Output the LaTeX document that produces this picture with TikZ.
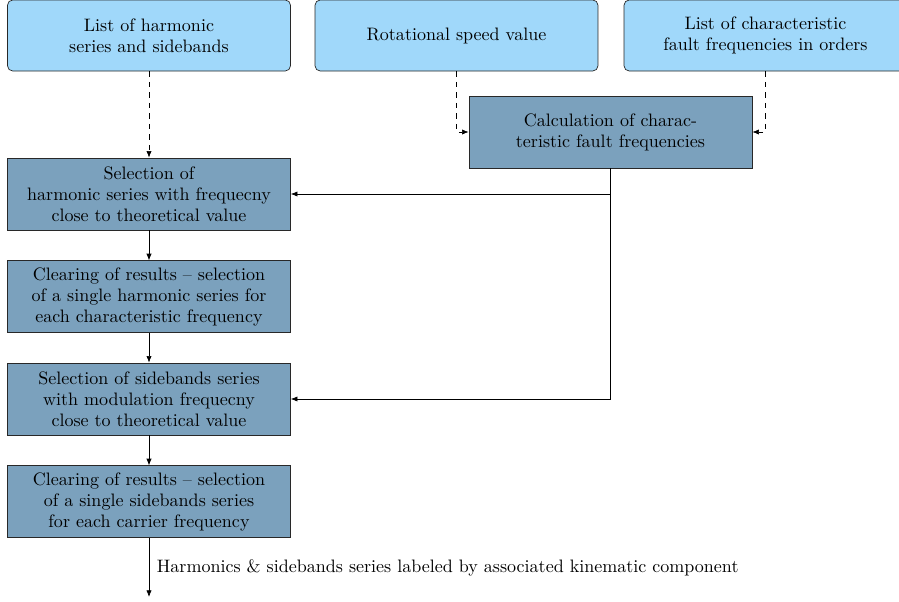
\documentclass[tikz,border=0pt]{standalone}
\usetikzlibrary{arrows.meta}
\definecolor{inboxcol}{RGB}{160,216,250}
\definecolor{procboxcol}{RGB}{123,161,189}
\definecolor{edgecol}{RGB}{40,40,40}
\begin{document}
\begin{tikzpicture}[x=0.5714pt,y=-0.5714pt,
  every node/.style={font=\fontsize{10.3}{12}\selectfont},
  inbox/.style={draw=edgecol,fill=inboxcol,rounded corners=3pt,minimum width=161.7pt,minimum height=40.6pt,inner sep=0pt,align=center},
  procbox/.style={draw=edgecol,fill=procboxcol,minimum width=161.7pt,minimum height=41.1pt,inner sep=0pt,align=center},
  conn/.style={-{Latex[length=3.8pt,width=3pt]}},
  dconn/.style={conn,dashed}]
\useasboundingbox (0,0) rectangle (899,601);
\clip (0,0) rectangle (899,601);
\node[inbox] (in1) at (149,35.5) {List of harmonic\\series and sidebands};
\node[inbox] (in2) at (456.5,35.5) {Rotational speed value};
\node[inbox] (in3) at (765.5,35.5) {List of characteristic\\fault frequencies in orders};
\node[procbox] (calc) at (610.5,132) {Calculation of charac-\\teristic fault frequencies};
\node[procbox] (A) at (149,194) {Selection of\\harmonic series with frequecny\\close to theoretical value};
\node[procbox] (B) at (149,296.7) {Clearing of results -- selection\\of a single harmonic series for\\each characteristic frequency};
\node[procbox] (C) at (149,399) {Selection of sidebands series\\with modulation frequecny\\close to theoretical value};
\node[procbox] (D) at (149,501.7) {Clearing of results -- selection\\of a single sidebands series\\for each carrier frequency};
\coordinate (out) at (149,597);
\draw[dconn] (in1) -- (A);
\draw[dconn] (in2.south) |- (calc.west);
\draw[dconn] (in3.south) |- (calc.east);
\draw[conn] (calc.south) |- (A.east);
\draw[conn] (calc.south) |- (C.east);
\draw[conn] (A) -- (B);
\draw[conn] (B) -- (C);
\draw[conn] (C) -- (D);
\draw[conn] (D) -- node[right,xshift=1pt] (lbl) {Harmonics \& sidebands series labeled by associated kinematic component} (out);
\end{tikzpicture}
\end{document}
